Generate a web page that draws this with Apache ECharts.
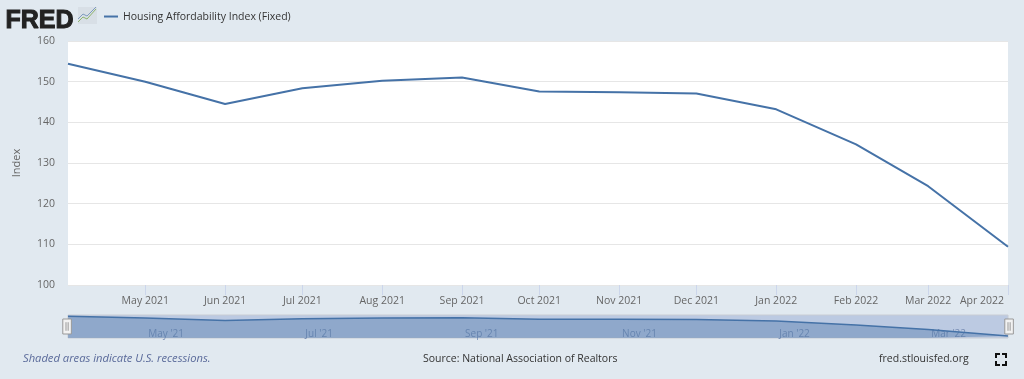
<div id="main" style="position:absolute;left:0;top:0;width:1024px;height:379px;"></div>

<script src="https://cdn.jsdelivr.net/npm/echarts@6/dist/echarts.min.js"></script>
<script>
var dates = ['2021-04-01', '2021-05-01', '2021-06-01', '2021-07-01', '2021-08-01', '2021-09-01', '2021-10-01',
	'2021-11-01', '2021-12-01', '2022-01-01', '2022-02-01', '2022-03-01', '2022-04-01'];
var values = [154.4, 150.0, 144.5, 148.4, 150.2, 151.0, 147.6, 147.4, 147.1, 143.2, 134.6, 124.3, 109.4];
var monthNames = ['Jan', 'Feb', 'Mar', 'Apr', 'May', 'Jun', 'Jul', 'Aug', 'Sep', 'Oct', 'Nov', 'Dec'];
var seriesName = 'Housing Affordability Index (Fixed)';

var font = '"Open Sans"';
var lineColor = '#4572a7';
var points = dates.map((d, i) => [new Date(d).getTime(), values[i]]);
var xMin = points[0][0];
var xMax = points[points.length - 1][0];

document.body.style.margin = 0;
var myChart = echarts.init(document.getElementById('main'));

myChart.setOption({
	animation: false,
	useUTC: true,
	backgroundColor: '#e1e9f0',
	textStyle: { fontFamily: font },
	legend: {
		left: 99,
		top: 3,
		itemWidth: 14,
		itemHeight: 2,
		itemGap: 4,
		icon: 'rect',
		textStyle: { color: '#333', fontSize: 10.5, fontFamily: font },
		data: [seriesName]
	},
	grid: [
		{ left: 68, right: 16, top: 41, height: 244, backgroundColor: '#fff', show: true, borderWidth: 0, outerBoundsMode: 'none' },
		{ left: 68, right: 16, top: 315, height: 23, backgroundColor: '#bccae2', show: true, borderWidth: 1, borderColor: '#c8ccd4', outerBoundsMode: 'none' }
	],
	xAxis: [
		{
			type: 'time',
			gridIndex: 0,
			min: xMin,
			max: xMax,
			splitNumber: 12,
			splitLine: { show: false },
			axisLine: { show: false },
			axisTick: { show: true, length: 10, lineStyle: { color: '#ccd6eb' }, customValues: points.slice(1).map(p => p[0]) },
			axisLabel: {
				color: '#666',
				fontSize: 10.5,
				margin: 7,
				hideOverlap: false,
				formatter: v => {
					if (v === xMin) return '';
					var d = new Date(v);
					var text = monthNames[d.getUTCMonth()] + ' ' + d.getUTCFullYear();
					// last label sits left of its tick so it stays on the page
					return v === xMax ? '{last|' + text + '}' : text;
				},
				rich: {
					last: { color: '#666', fontSize: 10.5, fontFamily: font, padding: [0, 52, 0, 0] }
				}
			}
		},
		{
			type: 'time',
			gridIndex: 1,
			min: xMin,
			max: xMax,
			splitNumber: 12,
			splitLine: { show: false },
			axisLine: { show: false },
			axisTick: { show: false },
			axisLabel: {
				inside: true,
				color: '#7b90b6',
				fontSize: 10,
				align: 'left',
				margin: -4,
				showMinLabel: false,
				showMaxLabel: false,
				padding: [0, 0, 0, 3],
				formatter: v => {
					var d = new Date(v);
					if (d.getUTCMonth() % 2) return '';
					return monthNames[d.getUTCMonth()] + " '" + String(d.getUTCFullYear()).slice(2);
				}
			},
			z: 1
		}
	],
	yAxis: [
		{
			type: 'value',
			gridIndex: 0,
			min: 100,
			max: 160,
			interval: 10,
			name: 'Index',
			nameLocation: 'middle',
			nameGap: 41,
			nameTextStyle: { color: '#666', fontSize: 11 },
			axisLine: { show: false },
			axisTick: { show: false },
			axisLabel: { color: '#666', fontSize: 10.5, margin: 13 },
			splitLine: { lineStyle: { color: '#e6e6e6', width: 1 } }
		},
		{
			type: 'value',
			gridIndex: 1,
			min: 105,
			max: 157,
			show: false
		}
	],
	dataZoom: [{
		type: 'slider',
		xAxisIndex: 0,
		filterMode: 'none',
		left: 65,
		right: 15,
		top: 315,
		height: 23,
		start: 0,
		end: 100,
		showDetail: false,
		showDataShadow: false,
		brushSelect: false,
		backgroundColor: 'transparent',
		fillerColor: 'transparent',
		borderColor: 'transparent',
		moveHandleSize: 0,
		handleIcon: 'path://M0,0 H8 V14 H0 Z M3,3 V11 M5,3 V11',
		handleSize: 15,
		handleStyle: { color: '#f2f2f2', borderColor: '#999', borderWidth: 1 }
	}],
	series: [
		{
			name: seriesName,
			type: 'line',
			xAxisIndex: 0,
			yAxisIndex: 0,
			data: points,
			showSymbol: false,
			lineStyle: { color: lineColor, width: 2 },
			itemStyle: { color: lineColor }
		},
		{
			name: 'navigator',
			type: 'line',
			xAxisIndex: 1,
			yAxisIndex: 1,
			data: points,
			showSymbol: false,
			lineStyle: { color: lineColor, width: 1.5 },
			itemStyle: { color: lineColor },
			areaStyle: { color: 'rgba(69,114,167,0.55)', origin: 'start' }
		}
	],
	graphic: [
		{ type: 'text', left: 5, top: -1, style: { text: 'FRED', fontFamily: '"Liberation Sans"', fontWeight: 'bold', fontSize: 25, fill: '#222', stroke: '#222', lineWidth: 1 } },
		{ type: 'rect', shape: { x: 78, y: 7, width: 19, height: 17 }, style: { fill: '#d8dfe6' } },
		{ type: 'polyline', shape: { points: [[78, 22], [83, 17], [87, 19], [96, 9]] }, style: { stroke: '#8fb56f', fill: null, lineWidth: 1 } },
		{ type: 'polyline', shape: { points: [[78, 19], [83, 14], [87, 16], [96, 7]] }, style: { stroke: '#7f9bbf', fill: null, lineWidth: 1 } },
		{ type: 'text', left: 23, top: 350, style: { text: 'Shaded areas indicate U.S. recessions.', fontFamily: font, fontStyle: 'italic', fontSize: 11.2, fill: '#5a6a9a' } },
		{ type: 'text', left: 423, top: 350, style: { text: 'Source: National Association of Realtors', fontFamily: font, fontSize: 10.5, fill: '#333' } },
		{ type: 'text', left: 879, top: 350, style: { text: 'fred.stlouisfed.org', fontFamily: font, fontSize: 10.5, fill: '#333' } },
		{ type: 'polyline', shape: { points: [[996, 358], [996, 354], [1000, 354]] }, style: { stroke: '#111', fill: null, lineWidth: 2 } },
		{ type: 'polyline', shape: { points: [[1002, 354], [1006, 354], [1006, 358]] }, style: { stroke: '#111', fill: null, lineWidth: 2 } },
		{ type: 'polyline', shape: { points: [[996, 361], [996, 365], [1000, 365]] }, style: { stroke: '#111', fill: null, lineWidth: 2 } },
		{ type: 'polyline', shape: { points: [[1002, 365], [1006, 365], [1006, 361]] }, style: { stroke: '#111', fill: null, lineWidth: 2 } }
	]
});
</script>
